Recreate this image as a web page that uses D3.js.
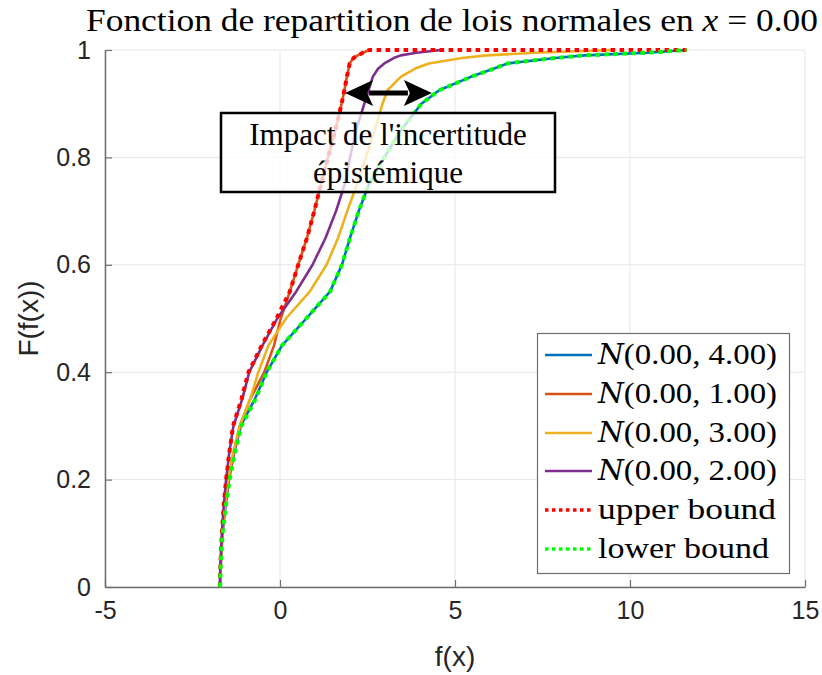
<!DOCTYPE html>
<html><head><meta charset="utf-8">
<script src="https://cdn.jsdelivr.net/npm/d3@7"></script>
<style>body{margin:0;background:#fff}</style>
</head><body>
<svg id="c" width="822" height="675"></svg>
<script>
// ---- data ----
const probs = [0, 0.03, 0.06, 0.1, 0.15, 0.2, 0.25, 0.3, 0.35, 0.4, 0.45, 0.5, 0.55, 0.6, 0.65, 0.7, 0.75, 0.8, 0.85, 0.9, 0.925, 0.95, 0.965, 0.975, 0.985, 0.99, 0.995, 1];
const xN4 = [-1.71,-1.70,-1.68,-1.64,-1.56,-1.46,-1.31,-1.12,-0.72,-0.38,0.06,0.75,1.43,1.77,2.0,2.25,2.54,2.98,3.45,4.04,4.55,5.45,6.1,6.5,7.85,8.7,10.5,11.62];
const xN1 = [-1.72,-1.70,-1.68,-1.65,-1.57,-1.46,-1.32,-1.15,-0.85,-0.45,-0.17,0.02,0.28,0.52,0.77,0.98,1.17,1.37,1.58,1.76,1.84,1.91,1.96,1.99,2.1,2.22,2.37,2.55];
const xN3 = [-1.71,-1.70,-1.68,-1.65,-1.58,-1.48,-1.34,-1.15,-0.85,-0.62,-0.33,0.17,0.85,1.33,1.66,1.92,2.2,2.45,2.7,2.93,3.07,3.45,3.85,4.25,5.2,5.9,7.3,9.5];
const xN2 = [-1.72,-1.71,-1.69,-1.66,-1.61,-1.54,-1.45,-1.33,-1.08,-0.88,-0.5,-0.08,0.46,0.93,1.3,1.6,1.85,2.0,2.17,2.41,2.53,2.65,2.8,2.98,3.25,3.45,3.9,4.6];
const xUpper = [-1.72,-1.71,-1.69,-1.66,-1.61,-1.54,-1.45,-1.34,-1.1,-0.9,-0.52,-0.1,0.28,0.52,0.77,0.98,1.17,1.37,1.58,1.76,1.84,1.91,1.96,1.99,2.1,2.22,2.37,2.55];
const upperEndX = 11.62;
const xLower = [-1.71,-1.70,-1.68,-1.64,-1.55,-1.44,-1.29,-1.1,-0.7,-0.38,0.06,0.75,1.43,1.77,2.0,2.25,2.54,2.98,3.45,4.04,4.55,5.45,6.1,6.5,7.85,8.7,10.5,11.62];

const legendLabels = ["(0.00, 4.00)", "(0.00, 1.00)", "(0.00, 3.00)", "(0.00, 2.00)", "upper bound", "lower bound"];
const xTicks = [-5, 0, 5, 10, 15];
const xTickLabels = ["-5", "0", "5", "10", "15"];
const yTicks = [0, 0.2, 0.4, 0.6, 0.8, 1];
const yTickLabels = ["0", "0.2", "0.4", "0.6", "0.8", "1"];
const arrowSpan = [1.86, 4.34];
const arrowLevel = 0.92;
const noteLines = ["Impact de l'incertitude", "épistémique"];

// ---- layout ----
const svg = d3.select("#c");
const L = 105, R = 805, T = 50, B = 587;
const x = d3.scaleLinear().domain([-5, 15]).range([L, R]);
const y = d3.scaleLinear().domain([0, 1]).range([B, T]);

// grid
const g = svg.append("g");
g.selectAll(".gx").data(xTicks).join("line")
  .attr("x1", d => x(d)).attr("x2", d => x(d)).attr("y1", T).attr("y2", B)
  .attr("stroke", "#e6e6e6").attr("stroke-width", 1);
g.selectAll(".gy").data(yTicks).join("line")
  .attr("x1", L).attr("x2", R).attr("y1", d => y(d)).attr("y2", d => y(d))
  .attr("stroke", "#e6e6e6").attr("stroke-width", 1);

// axes
const xAxis = d3.axisBottom(x).tickValues(xTicks).tickSizeInner(-7).tickSizeOuter(0).tickPadding(14).tickFormat((d, i) => xTickLabels[i]);
const yAxis = d3.axisLeft(y).tickValues(yTicks).tickSizeInner(-7).tickSizeOuter(0).tickPadding(14).tickFormat((d, i) => yTickLabels[i]);
const gx = svg.append("g").attr("transform", `translate(0,${B})`).call(xAxis);
const gy = svg.append("g").attr("transform", `translate(${L},0)`).call(yAxis);
[gx, gy].forEach(a => {
  a.select(".domain").attr("stroke", "#6e6e6e").attr("stroke-width", 1.5);
  a.selectAll(".tick line").attr("stroke", "#6e6e6e").attr("stroke-width", 1.2);
  a.selectAll("text").attr("fill", "#262626").attr("font-family", "Liberation Sans, Arial, sans-serif").attr("font-size", 25);
});
gx.selectAll("text").attr("dy", "0.71em");

// curves
const line = d3.line().x(d => x(d[0])).y(d => y(d[1]));
const mk = xs => xs.map((v, i) => [v, probs[i]]);
const series = [
  {xs: mk(xN4), color: "#0072BD", w: 2.6, dash: null},
  {xs: mk(xN1), color: "#D95319", w: 2.6, dash: null},
  {xs: mk(xN3), color: "#EDB120", w: 2.6, dash: null},
  {xs: mk(xN2), color: "#7E2F8E", w: 2.6, dash: null},
  {xs: mk(xUpper).concat([[upperEndX, 1]]), color: "#FF0000", w: 4, dash: "4.5,4.5"},
  {xs: mk(xLower), color: "#00FF00", w: 4, dash: "4.5,4.5"}
];
svg.append("g").selectAll("path").data(series).join("path")
  .attr("d", d => line(d.xs)).attr("fill", "none")
  .attr("stroke", d => d.color).attr("stroke-width", d => d.w)
  .attr("stroke-dasharray", d => d.dash).attr("stroke-linejoin", "round");

// arrow
const ax1 = x(arrowSpan[0]), ax2 = x(arrowSpan[1]), ay = y(arrowLevel);
const hl = 28, hw = 13;
svg.append("line").attr("x1", ax1 + hl - 4).attr("x2", ax2 - hl + 4).attr("y1", ay).attr("y2", ay)
  .attr("stroke", "#000").attr("stroke-width", 5);
svg.append("path").attr("d", `M${ax1},${ay} L${ax1 + hl},${ay - hw} L${ax1 + hl - 6},${ay} L${ax1 + hl},${ay + hw} Z`).attr("fill", "#000");
svg.append("path").attr("d", `M${ax2},${ay} L${ax2 - hl},${ay - hw} L${ax2 - hl + 6},${ay} L${ax2 - hl},${ay + hw} Z`).attr("fill", "#000");

// annotation box
svg.append("rect").attr("x", 221).attr("y", 113).attr("width", 334).attr("height", 79)
  .attr("fill", "#fff").attr("fill-opacity", 0.75).attr("stroke", "#000").attr("stroke-width", 2.5);
svg.append("g").selectAll("text").data(noteLines).join("text")
  .attr("x", 388).attr("y", (d, i) => 145 + i * 38).attr("text-anchor", "middle")
  .attr("font-family", "Liberation Serif, Times New Roman, serif").attr("font-size", 31).attr("fill", "#000")
  .text(d => d);

// legend
const lg = svg.append("g");
lg.append("rect").attr("x", 537.5).attr("y", 333.5).attr("width", 252).attr("height", 240)
  .attr("fill", "#fff").attr("stroke", "#6e6e6e").attr("stroke-width", 1.2);
const rowY = [355, 394, 433, 471, 510, 549];
const legendW = [179, 179, 179, 179, 178, 171];
series.forEach((s, i) => {
  lg.append("line").attr("x1", 545).attr("x2", 592).attr("y1", rowY[i]).attr("y2", rowY[i])
    .attr("stroke", s.color).attr("stroke-width", s.dash ? 3.5 : 2.6).attr("stroke-dasharray", s.dash ? "3.5,3.5" : null);
  const t = lg.append("text").attr("x", 598).attr("y", rowY[i] + 9)
    .attr("font-family", "Liberation Serif, Times New Roman, serif").attr("font-size", 30).attr("fill", "#000")
    .attr("textLength", legendW[i]).attr("lengthAdjust", "spacingAndGlyphs");
  if (i < 4) {
    t.append("tspan").attr("font-style", "italic").attr("font-family", "DejaVu Serif, serif").attr("font-size", 27).text("N");
  }
  t.append("tspan").text(legendLabels[i]);
});

// title
const title = svg.append("text").attr("x", 452).attr("y", 31).attr("text-anchor", "middle")
  .attr("font-family", "Liberation Serif, Times New Roman, serif").attr("font-size", 31).attr("fill", "#000")
  .attr("textLength", 732).attr("lengthAdjust", "spacingAndGlyphs");
title.append("tspan").text("Fonction de repartition de lois normales en ");
title.append("tspan").attr("font-style", "italic").text("x");
title.append("tspan").text(" = 0.00");

// axis labels
svg.append("text").attr("x", 455).attr("y", 666).attr("text-anchor", "middle")
  .attr("font-family", "Liberation Sans, Arial, sans-serif").attr("font-size", 28).attr("fill", "#262626").text("f(x)");
svg.append("text").attr("transform", `translate(38,${(T + B) / 2}) rotate(-90)`).attr("text-anchor", "middle")
  .attr("font-family", "Liberation Sans, Arial, sans-serif").attr("font-size", 28).attr("fill", "#262626").text("F(f(x))");
</script>
</body></html>
